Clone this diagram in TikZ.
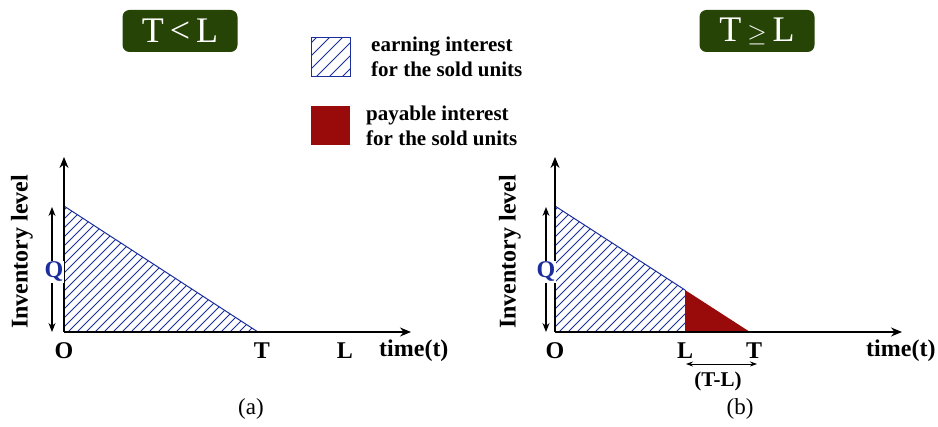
\documentclass[tikz,border=0pt]{standalone}
\usepackage{fontspec}
\setmainfont{Liberation Serif}
\usetikzlibrary{arrows.meta}
\definecolor{hatchblue}{HTML}{1C2E9C}
\definecolor{payred}{HTML}{990A0A}
\definecolor{boxgreen}{HTML}{274407}
\tikzset{
  axis/.style={line width=1.3pt,-{Stealth[length=11pt,width=9pt]}},
  dimarrow/.style={line width=1.1pt,{Stealth[length=9pt,width=7pt]}-{Stealth[length=9pt,width=7pt]}},
  axlabel/.style={font=\fontsize{24}{28}\selectfont\bfseries,inner sep=0pt},
  legtext/.style={font=\fontsize{21}{25}\selectfont\bfseries,align=left,inner sep=0pt,anchor=west},
  titlebox/.style={fill=boxgreen,text=white,rounded corners=7pt,minimum width=115pt,minimum height=42pt,font=\fontsize{36}{38}\selectfont,inner sep=0pt},
  caption/.style={font=\fontsize{23}{26}\selectfont,inner sep=0pt},
  hatchline/.style={hatchblue,line width=0.9pt},
  edge/.style={hatchblue,line width=1pt}
}
\begin{document}
\begin{tikzpicture}[x=1pt,y=-1pt]
\useasboundingbox (0,0) rectangle (938,427);
% titles
\node[titlebox] (t1) at (180,31) {T\,<\,L};
\node[titlebox] (t2) at (757,31) {T\,$\geq$\,L};
% legend
\begin{scope}
\clip (311,38) rectangle (350,77);
\foreach \k in {-60,-47,...,60} \draw[hatchline] (311+\k,77) -- (311+\k+60,17);
\end{scope}
\node[draw=hatchblue,line width=1pt,minimum size=39pt,inner sep=0pt] (lg1) at (330.5,57.5) {};
\node[legtext] (lt1) at (371,57) {earning interest\\for the sold units};
\node[fill=payred,minimum size=39pt,inner sep=0pt] (lg2) at (330.5,126) {};
\node[legtext] (lt2) at (366,126) {payable interest\\for the sold units};
% ----- panel (a)
\coordinate (O1) at (64,332);
\coordinate (Q1) at (64,206);
\coordinate (T1) at (258,332);
\begin{scope}
\clip (O1) -- (Q1) -- (T1) -- cycle;
\foreach \k in {-140,-131,...,200} \draw[hatchline] (64+\k,332) -- (64+\k+140,192);
\end{scope}
\draw[edge] (Q1) -- (T1);
\coordinate (ya1) at (64,157);
\coordinate (xa1) at (411,332);
\draw[axis] (O1) -- (ya1);
\draw[axis] (O1) -- (xa1);
\coordinate (qa1) at (52,207);
\coordinate (qb1) at (52,332);
\draw[dimarrow] (qa1) -- (qb1);
\node[fill=white,inner sep=1pt,text=hatchblue,font=\fontsize{24}{28}\selectfont\bfseries] (ql1) at (54,272) {Q};
\node[axlabel,rotate=90] (yl1) at (22,252) {Inventory level};
\node[axlabel] (o1) at (64,351) {O};
\node[axlabel] (tl1) at (262,351) {T};
\node[axlabel] (ll1) at (345,351) {L};
\node[axlabel,anchor=west] (xl1) at (379,351) {time(t)};
\node[caption] (ca) at (251,409) {(a)};
% ----- panel (b)
\coordinate (O2) at (555,332);
\coordinate (Q2) at (555,206);
\coordinate (T2) at (750,332);
\coordinate (L2) at (685,332);
\coordinate (M2) at (685,290);
\begin{scope}
\clip (O2) -- (Q2) -- (M2) -- (L2) -- cycle;
\foreach \k in {-140,-131,...,200} \draw[hatchline] (555+\k,332) -- (555+\k+140,192);
\end{scope}
\fill[payred] (L2) -- (M2) -- (T2) -- cycle;
\draw[edge] (Q2) -- (M2);
\draw[hatchblue,line width=0.8pt] (M2) -- (L2);
\coordinate (ya2) at (555,157);
\coordinate (xa2) at (902,332);
\draw[axis] (O2) -- (ya2);
\draw[axis] (O2) -- (xa2);
\coordinate (qa2) at (546,207);
\coordinate (qb2) at (546,332);
\draw[dimarrow] (qa2) -- (qb2);
\node[fill=white,inner sep=1pt,text=hatchblue,font=\fontsize{24}{28}\selectfont\bfseries] (ql2) at (546,272) {Q};
\node[axlabel,rotate=90] (yl2) at (510,252) {Inventory level};
\node[axlabel] (o2) at (555,351) {O};
\node[axlabel] (ll2) at (685,351) {L};
\node[axlabel] (tl2) at (754,351) {T};
\node[axlabel,anchor=west] (xl2) at (866,351) {time(t)};
\coordinate (da) at (686,364);
\coordinate (db) at (757,364);
\draw[line width=0.8pt,{Stealth[length=7pt,width=5pt]}-{Stealth[length=7pt,width=5pt]}] (da) -- (db);
\node[font=\fontsize{21}{24}\selectfont\bfseries,inner sep=0pt] (tl) at (718,381) {(T-L)};
\node[caption] (cb) at (740,409) {(b)};
\end{tikzpicture}
\end{document}
